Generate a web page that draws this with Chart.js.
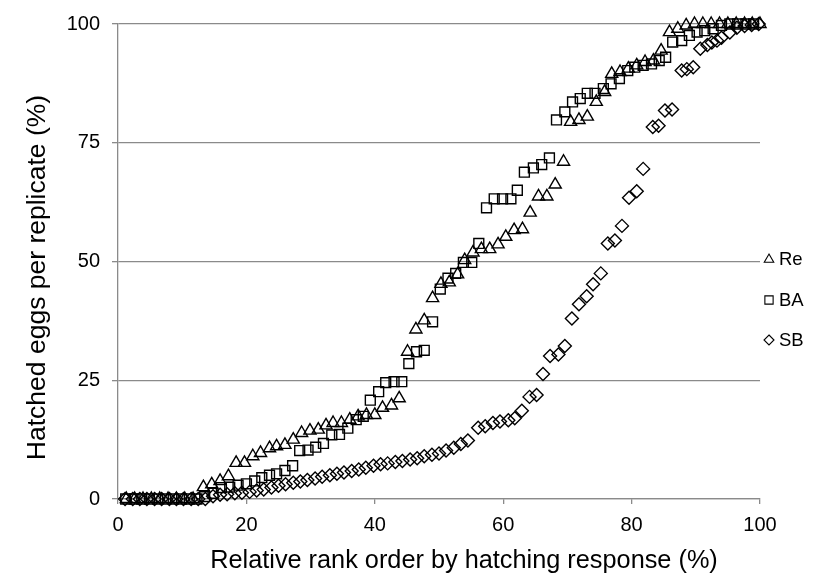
<!DOCTYPE html>
<html><head><meta charset="utf-8">
<script src="https://cdn.jsdelivr.net/npm/chart.js@4/dist/chart.umd.min.js"></script>
<style>html,body{margin:0;padding:0;background:#fff}#wrap{width:818px;height:583px}</style>
</head><body><div id="wrap"><canvas id="c" width="818" height="583"></canvas></div>
<script>
const SERIES_NAMES = ['Re', 'BA', 'SB'];
const X_TITLE = 'Relative rank order by hatching response (%)';
const Y_TITLE = 'Hatched eggs per replicate (%)';
const X_TICK_STEP = 20;
const Y_TICK_STEP = 25;

const reX = [1.3,2.6,3.9,5.2,6.5,7.8,9.1,10.4,11.7,
  13.3,14.6,15.9,17.2,18.4,19.7,21.0,22.2,23.6,24.7,
  26.0,27.3,28.6,29.9,31.2,32.4,33.5,34.8,36.1,37.4,
  38.7,40.0,41.2,42.6,43.8,45.1,46.4,47.7,49.0,50.3,
  51.6,52.9,54.0,55.3,56.6,57.9,59.2,60.4,61.7,63.0,
  64.2,65.5,66.8,68.1,69.4,70.5,71.8,73.1,74.5,75.8,
  76.9,78.2,79.5,80.8,82.1,83.4,84.6,85.9,87.2,88.5,
  89.8,91.1,92.4,93.7,95.0,96.3,97.6,98.8,100];
const reY = [0,0,0,0,0,0,0,0,0,
  2.5,3.1,3.8,4.8,7.6,7.6,9.0,9.7,10.7,11.1,
  11.4,12.5,13.9,14.4,14.6,15.5,16.0,16.0,16.7,17.4,
  17.7,17.7,19.2,19.7,21.2,31.0,35.7,37.6,42.3,45.3,
  45.6,47.3,50.3,51.9,52.6,52.6,53.6,55.2,56.6,56.8,
  60.3,63.7,63.7,66.2,71.0,79.4,79.8,80.5,83.6,85.7,
  89.5,89.9,90.6,91.3,92.0,92.3,94.4,98.3,99.0,99.7,
  100,100,100,100,100,100,100,100,100];

const baX = [1.2,2.5,3.7,4.9,6.2,7.4,8.6,9.9,11.1,12.3,
  13.5,14.8,16.1,17.4,18.7,20.0,21.3,22.4,23.6,24.7,
  26.0,27.2,28.3,29.6,30.8,32.0,33.3,34.5,35.8,37.1,
  38.2,39.3,40.6,41.7,43.0,44.2,45.3,46.5,47.7,49.0,
  50.2,51.4,52.6,53.8,55.1,56.2,57.4,58.6,59.9,61.2,
  62.2,63.3,64.7,66.0,67.2,68.3,69.6,70.8,72.0,73.1,
  74.3,75.6,76.8,78.1,79.4,80.5,81.8,83.1,84.3,85.3,
  86.4,87.8,89.0,90.2,91.4,92.7,94.0,95.3,96.5,97.8,
  99.0];
const baY = [0,0,0,0,0,0,0,0,0,0,
  0.5,1.2,2.4,2.5,2.9,3.2,3.8,4.5,5.0,5.3,
  6.0,7.0,10.2,10.3,10.9,11.7,13.5,13.6,14.9,16.7,
  17.4,20.8,22.6,24.5,24.7,24.7,28.5,31.0,31.3,37.3,
  44.2,46.5,47.5,49.8,49.8,53.8,61.3,63.2,63.2,63.2,
  65.0,68.8,69.7,70.4,71.8,79.8,81.5,83.6,84.3,85.4,
  85.4,86.4,87.4,88.5,90.2,90.9,91.3,91.6,92.3,93.0,
  96.2,96.5,97.6,98.3,98.6,99.0,99.7,100,100,100,
  100];

const sbX = [1.1,2.3,3.4,4.5,5.7,6.8,8.0,9.1,10.2,11.4,
  12.5,13.6,14.8,15.9,17.0,18.2,19.3,20.5,21.6,22.7,
  23.9,25.0,26.1,27.3,28.4,29.5,30.7,31.8,33.0,34.1,
  35.2,36.4,37.5,38.6,39.8,40.9,42.0,43.2,44.3,45.5,
  46.6,47.7,48.9,50.0,51.1,52.3,53.4,54.5,56.1,57.2,
  58.4,59.5,60.8,61.8,62.9,64.1,65.2,66.2,67.3,68.6,
  69.6,70.7,71.8,73.0,74.0,75.2,76.3,77.4,78.5,79.6,
  80.8,81.8,83.3,84.2,85.2,86.3,87.8,88.6,89.6,90.7,
  91.8,92.5,93.3,94.0,95.3,96.4,97.6,98.7,99.8];
const sbY = [0,0,0,0,0,0,0,0,0,0,
  0,0,0.6,0.9,1.0,1.2,1.3,1.5,1.8,2.0,
  2.4,2.8,3.1,3.4,3.7,4.0,4.3,4.7,5.0,5.3,
  5.6,5.9,6.2,6.6,7.0,7.3,7.5,7.8,8.0,8.3,
  8.6,9.0,9.3,9.6,10.2,10.8,11.6,12.3,15.0,15.3,
  16.0,16.3,16.6,17.0,18.6,21.5,21.9,26.3,30.1,30.4,
  32.2,38.0,41.0,42.7,45.2,47.5,53.8,54.4,57.5,63.4,
  64.8,69.5,78.3,78.6,81.8,82.0,90.2,90.5,90.9,94.8,
  95.6,96.1,96.5,97.1,98.2,99.2,99.6,99.8,100];

const FONT = '"Liberation Sans", Arial, sans-serif';
const toPts = (xs, ys) => xs.map((x, i) => ({x: x, y: ys[i]}));

const STYLES = [
  {pointStyle: 'triangle', pointRadius: 7, legendRadius: 5},
  {pointStyle: 'rect', pointRadius: 7, legendRadius: 5.5},
  {pointStyle: 'rectRot', pointRadius: 6.5, legendRadius: 5}
];
const seriesData = [toPts(reX, reY), toPts(baX, baY), toPts(sbX, sbY)];

const datasets = SERIES_NAMES.map((name, i) => ({
  label: name,
  data: seriesData[i],
  pointStyle: STYLES[i].pointStyle,
  pointRadius: STYLES[i].pointRadius,
  pointHoverRadius: STYLES[i].pointRadius,
  borderColor: '#000',
  backgroundColor: 'rgba(0,0,0,0)',
  pointBorderWidth: 1.4,
  borderWidth: 1.4,
  showLine: false,
  clip: false
}));

const legendPlugin = {
  id: 'customLegend',
  afterDraw(chart) {
    const ctx = chart.ctx;
    const area = chart.chartArea;
    const sx = area.right + 9, tx = area.right + 19;
    const ys = [259, 300, 340];
    ctx.save();
    ctx.strokeStyle = '#000';
    ctx.lineWidth = 1.1;
    ctx.fillStyle = '#000';
    ctx.font = '18.5px ' + FONT;
    ctx.textAlign = 'left';
    ctx.textBaseline = 'middle';
    chart.data.datasets.forEach((ds, i) => {
      const y = ys[i];
      const r = STYLES[i].legendRadius;
      ctx.beginPath();
      if (ds.pointStyle === 'triangle') {
        ctx.moveTo(sx, y - r);
        ctx.lineTo(sx + r * 0.95, y + r * 0.65);
        ctx.lineTo(sx - r * 0.95, y + r * 0.65);
        ctx.closePath();
      } else if (ds.pointStyle === 'rect') {
        const h = r * 0.75;
        ctx.rect(sx - h, y - h, 2 * h, 2 * h);
      } else {
        ctx.moveTo(sx, y - r); ctx.lineTo(sx + r, y); ctx.lineTo(sx, y + r); ctx.lineTo(sx - r, y);
        ctx.closePath();
      }
      ctx.stroke();
      ctx.fillText(ds.label, tx, y + 1);
    });
    ctx.restore();
  }
};

const titlePlugin = {
  id: 'axisTitles',
  afterDraw(chart) {
    const ctx = chart.ctx;
    const a = chart.chartArea;
    ctx.save();
    ctx.fillStyle = '#000';
    ctx.textAlign = 'center';
    ctx.textBaseline = 'middle';
    ctx.font = '25.3px ' + FONT;
    ctx.fillText(X_TITLE, (a.left + a.right) / 2 + 25, 561);
    ctx.font = '26.5px ' + FONT;
    ctx.translate(38, (a.top + a.bottom) / 2 + 16);
    ctx.rotate(-Math.PI / 2);
    ctx.fillText(Y_TITLE, 0, 0);
    ctx.restore();
  }
};

new Chart(document.getElementById('c').getContext('2d'), {
  type: 'scatter',
  data: {datasets: datasets},
  options: {
    responsive: false,
    animation: false,
    events: [],
    layout: {padding: {top: 16, right: 58, left: 0, bottom: 0}},
    plugins: {legend: {display: false}, tooltip: {enabled: false}},
    scales: {
      x: {
        type: 'linear', min: 0, max: 100,
        ticks: {stepSize: X_TICK_STEP, color: '#000', font: {family: FONT, size: 20}, padding: 9, maxRotation: 0},
        grid: {drawOnChartArea: false, drawTicks: true, tickLength: 5, color: '#8a8a8a', lineWidth: 1.3},
        border: {color: '#8a8a8a', width: 1.3},
        afterFit: s => { s.height = 84; }
      },
      y: {
        type: 'linear', min: 0, max: 100,
        ticks: {stepSize: Y_TICK_STEP, color: '#000', font: {family: FONT, size: 20}, padding: 12},
        grid: {drawTicks: true, tickLength: 6, color: '#8a8a8a', lineWidth: 1.3},
        border: {color: '#8a8a8a', width: 1.3},
        afterFit: s => { s.width = 118; }
      }
    }
  },
  plugins: [legendPlugin, titlePlugin]
});
</script>
</body></html>
